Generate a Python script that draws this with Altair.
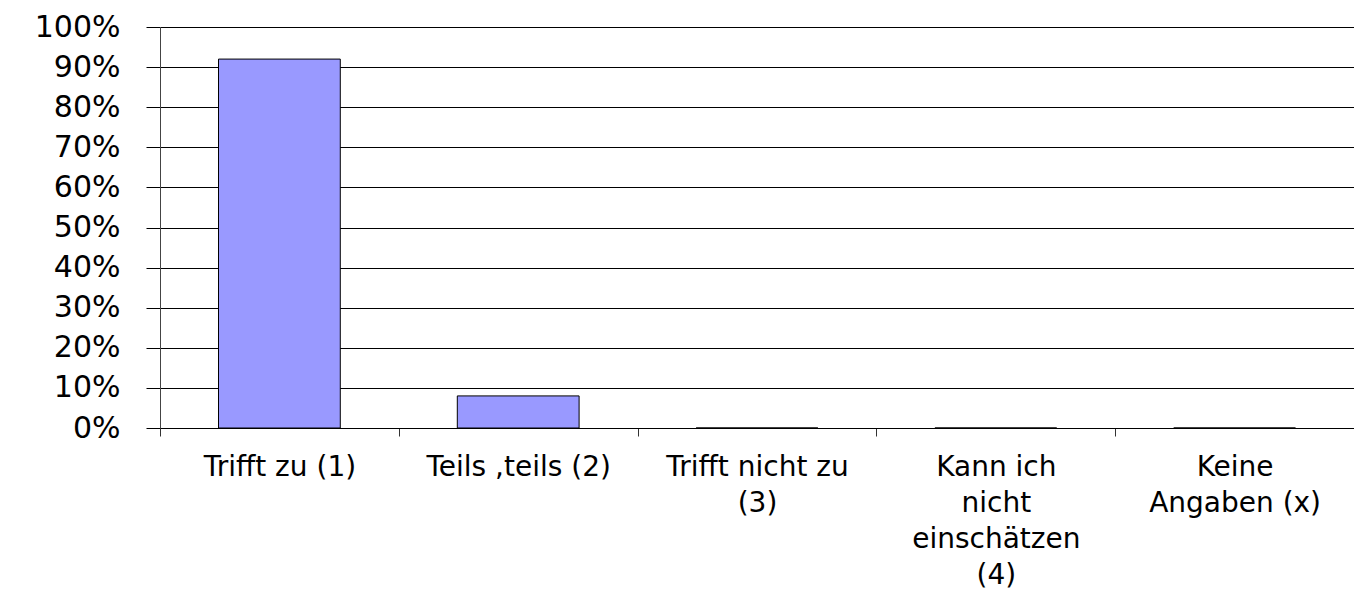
import altair as alt
import pandas as pd

categories = [
    "Trifft zu (1)",
    "Teils ,teils (2)",
    "Trifft nicht zu\n(3)",
    "Kann ich\nnicht\neinschätzen\n(4)",
    "Keine\nAngaben (x)",
]
shares = [0.92, 0.08, 0.0, 0.0, 0.0]
y_ticks = [0, 0.1, 0.2, 0.3, 0.4, 0.5, 0.6, 0.7, 0.8, 0.9, 1.0]

df = pd.DataFrame({"category": categories, "share": shares})

FONT = "DejaVu Sans"

chart = (
    alt.Chart(df)
    .mark_bar(color="#9999FF", stroke="#000000", strokeWidth=1, width={"band": 0.51})
    .encode(
        x=alt.X(
            "category:N",
            sort=None,
            title=None,
            scale=alt.Scale(paddingInner=0, paddingOuter=0),
            axis=alt.Axis(
                labelAngle=0,
                labelExpr="split(datum.label, '\\n')",
                labelFont=FONT,
                labelFontSize=28,
                labelColor="#000000",
                labelLineHeight=36,
                labelPadding=17,
                labelOverlap=False,
                labelLimit=0,
                labelBaseline="top",
                tickBand="extent",
                tickSize=8,
                tickColor="#333333",
                domain=True,
                domainColor="#000000",
                grid=False,
            ),
        ),
        y=alt.Y(
            "share:Q",
            title=None,
            scale=alt.Scale(domain=[0, 1], nice=False),
            axis=alt.Axis(
                values=y_ticks,
                format=".0%",
                labelFont=FONT,
                labelFontSize=30,
                labelColor="#000000",
                labelPadding=26,
                tickSize=14,
                tickColor="#000000",
                domainColor="#444444",
                grid=True,
                gridColor="#000000",
                gridWidth=1,
            ),
        ),
    )
    .properties(
        width=1194,
        height=401,
        autosize=alt.AutoSizeParams(type="none"),
        padding={"left": 152, "top": 19, "right": 0, "bottom": 167},
        background="#ffffff",
    )
    .configure_view(strokeWidth=0)
)

chart.save("out.html", embed_options={"renderer": "svg", "actions": False})
